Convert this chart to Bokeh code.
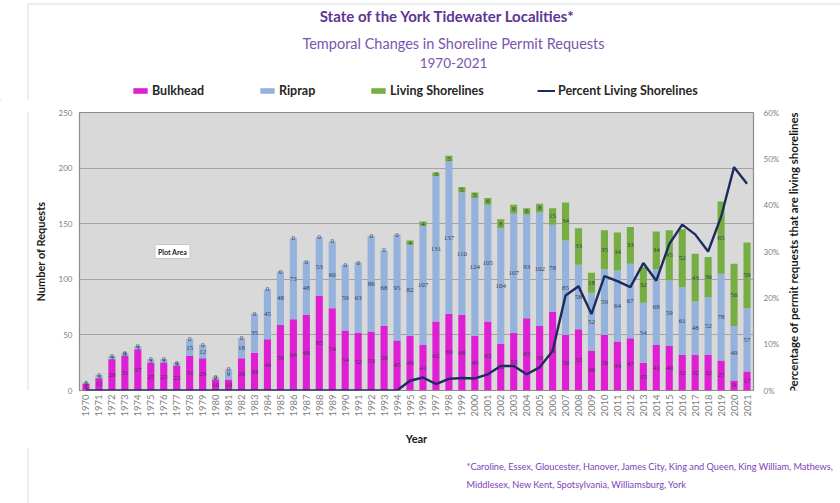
import math
from bokeh.plotting import figure
from bokeh.layouts import column, row
from bokeh.core.properties import value
from bokeh.models import (ColumnDataSource, LinearAxis, Range1d, FixedTicker, Span, BoxAnnotation,
                          NumeralTickFormatter, Label, LabelSet, Legend, LegendItem)
from bokeh.embed import file_html
from bokeh.resources import INLINE

years = list(range(1970, 2022))
bulkhead = [6, 11, 28, 31, 37, 25, 25, 22, 31, 29, 10, 10, 29, 34, 46, 59, 64, 68, 85, 74,
            54, 52, 53, 58, 45, 49, 41, 62, 69, 68, 49, 62, 42, 52, 65, 58, 71, 50, 55, 36,
            50, 44, 47, 25, 41, 40, 32, 32, 32, 27, 9, 17]
riprap = [1, 3, 3, 3, 3, 3, 3, 3, 15, 12, 2, 9, 18, 35, 45, 48, 73, 48, 53, 60,
          59, 63, 86, 68, 95, 82, 107, 131, 137, 110, 124, 105, 104, 107, 93, 102, 78, 85, 58, 52,
          59, 64, 67, 54, 68, 59, 61, 48, 52, 78, 49, 57]
living = [0, 0, 0, 0, 0, 0, 0, 0, 0, 0, 0, 0, 0, 0, 0, 0, 0, 0, 0, 0,
          0, 0, 0, 0, 0, 4, 4, 3, 5, 5, 5, 6, 8, 8, 6, 8, 15, 34, 33, 18,
          35, 34, 33, 32, 34, 45, 52, 43, 36, 65, 56, 59]
percent_living = [0, 0, 0, 0, 0, 0, 0, 0, 0, 0, 0, 0, 0, 0, 0, 0, 0, 0, 0, 0,
                  0, 0, 0, 0, 0, 2.1, 2.8, 1.4, 2.5, 2.7, 2.6, 3.5, 5.3, 5.3, 3.5, 5.0, 8.5, 20.5, 22.5, 16.5,
                  24.7, 23.6, 22.3, 27.5, 23.7, 31.6, 35.8, 33.7, 30.0, 37.5, 48.2, 44.6]
left_ticks = [0, 50, 100, 150, 200, 250]
right_ticks = [0, 0.1, 0.2, 0.3, 0.4, 0.5, 0.6]
series_names = ["Bulkhead", "Riprap", "Living Shorelines", "Percent Living Shorelines"]

C_BULK = "#de1fd4"
C_RIP = "#94b2dc"
C_LIV = "#76ae44"
C_LINE = "#1e2b5e"
C_BORDER = "#8c8c8c"
FONT = "Lato"

HDR_H = 100
ROW_H = 347
FTR_H = 503 - HDR_H - ROW_H


def blank(w, h):
    f = figure(width=w, height=h, x_range=Range1d(0, w), y_range=Range1d(0, h),
               x_axis_type=None, y_axis_type=None, toolbar_location=None,
               output_backend="svg", min_border=0)
    f.outline_line_color = None
    f.background_fill_color = "white"
    f.border_fill_color = "white"
    return f


# ---------------- header (titles + legend) ----------------
hdr = blank(840, HDR_H)
hdr.add_layout(BoxAnnotation(left=27.5, right=2000, bottom=-100, top=HDR_H - 3.5,
                             fill_alpha=0, line_color=C_BORDER, line_width=1))
hdr.add_layout(Label(x=447, y=HDR_H - 15, x_units="screen", y_units="screen",
                     text="State of the York Tidewater Localities*",
                     text_align="center", text_baseline="middle", text_font=FONT,
                     text_font_size="15px", text_font_style="bold", text_color="#5e3494"))
hdr.add_layout(Label(x=453, y=HDR_H - 43, x_units="screen", y_units="screen",
                     text="Temporal Changes in Shoreline Permit Requests",
                     text_align="center", text_baseline="middle", text_font=FONT,
                     text_font_size="14.5px", text_color="#7b55b0"))
hdr.add_layout(Label(x=453, y=HDR_H - 62, x_units="screen", y_units="screen", text="1970-2021",
                     text_align="center", text_baseline="middle", text_font=FONT,
                     text_font_size="13.5px", text_color="#7b55b0"))
d_b = hdr.vbar(x=[-100], top=[1], width=1, fill_color=C_BULK, line_color=None)
d_r = hdr.vbar(x=[-100], top=[1], width=1, fill_color=C_RIP, line_color=None)
d_l = hdr.vbar(x=[-100], top=[1], width=1, fill_color=C_LIV, line_color=None)
d_p = hdr.line(x=[-100, -90], y=[1, 1], line_color=C_LINE, line_width=2)
for name, rend, xpos in zip(series_names, [d_b, d_r, d_l, d_p], [131, 258, 369, 537]):
    lg = Legend(items=[LegendItem(label=name, renderers=[rend])], location=(xpos, HDR_H - 91 - 7),
                orientation="horizontal", padding=0, margin=0, spacing=0,
                glyph_width=18, glyph_height=7, label_standoff=3, label_height=14,
                label_text_font=FONT, label_text_font_size="12.5px",
                label_text_font_style="bold", label_text_color="#262626",
                border_line_color=None, background_fill_alpha=0)
    hdr.add_layout(lg, "center")

# ---------------- main chart ----------------
src = ColumnDataSource(dict(year=years, bulkhead=bulkhead, riprap=riprap, living=living,
                            pct=[v / 100 for v in percent_living]))

p = figure(width=753, height=ROW_H,
           x_range=Range1d(1969.5, 2021.5), y_range=Range1d(0, 250),
           output_backend="svg", toolbar_location=None,
           min_border_left=48, min_border_right=30, min_border_top=12, min_border_bottom=54)
p.background_fill_color = "#d9d9d9"
p.border_fill_color = "white"
p.outline_line_color = C_BORDER
p.outline_line_width = 1.2
p.extra_y_ranges = {"pct": Range1d(0, 0.6)}

bars = p.vbar_stack(["bulkhead", "riprap", "living"], x="year", width=0.55,
                    color=[C_BULK, C_RIP, C_LIV], line_color=None, source=src)
ln = p.line("year", "pct", y_range_name="pct", line_color=C_LINE, line_width=2.4, source=src)

rax = LinearAxis(y_range_name="pct", ticker=FixedTicker(ticks=right_ticks),
                 formatter=NumeralTickFormatter(format="0%"))
p.add_layout(rax, "right")

p.xaxis.ticker = FixedTicker(ticks=years)
p.xaxis.major_label_orientation = math.pi / 2
p.yaxis[0].ticker = FixedTicker(ticks=left_ticks)
for ax in [p.xaxis[0], p.yaxis[0], rax]:
    ax.axis_line_color = None
    ax.major_tick_line_color = None
    ax.minor_tick_line_color = None
    ax.major_tick_out = 0
    ax.major_tick_in = 0
    ax.minor_tick_out = 0
    ax.minor_tick_in = 0
    ax.major_label_text_color = "#808080"
    ax.major_label_text_font = FONT
    ax.axis_label_text_font = FONT
    ax.axis_label_text_font_size = "11px"
    ax.axis_label_text_font_style = "bold"
    ax.axis_label_text_color = "#1a1a1a"
p.xaxis.major_label_text_font_size = "9.5px"
p.yaxis[0].major_label_text_font_size = "8px"
rax.major_label_text_font_size = "8px"
p.xaxis.major_label_standoff = 4
p.yaxis[0].major_label_standoff = 7
rax.major_label_standoff = 10
p.xaxis.axis_label = "Year"
p.xaxis.axis_label_standoff = 12
p.yaxis[0].axis_label = "Number of Requests"
p.yaxis[0].axis_label_standoff = 9

p.xgrid.grid_line_color = None
p.ygrid.ticker = FixedTicker(ticks=[50, 100, 150, 200])
p.ygrid.grid_line_color = "#a3a3a3"
p.ygrid.grid_line_width = 1

lx, ly, lt = [], [], []
for i, yr in enumerate(years):
    b, r, l = bulkhead[i], riprap[i], living[i]
    lx.append(yr); ly.append(b / 2); lt.append(str(b))
    lx.append(yr); ly.append(b + r / 2); lt.append(str(r))
    lx.append(yr); ly.append(b + r + l / 2); lt.append(str(l))
lab_src = ColumnDataSource(dict(x=lx, y=ly, t=lt))
p.add_layout(LabelSet(x="x", y="y", text="t", source=lab_src, text_align="center",
                      text_baseline="middle", text_font=FONT, text_font_size="7px",
                      text_color="#3c3c4c"))

p.add_layout(Label(x=93, y=139, x_units="screen", y_units="screen", text="Plot Area",
                   text_align="center", text_baseline="middle", text_font=FONT,
                   text_font_size="7px", text_font_style="bold", text_color="#222222",
                   background_fill_color="white", border_line_color="#c8c8c8",
                   padding=3))

# left strip with border line
strip = blank(30, ROW_H)
strip.add_layout(BoxAnnotation(left=27.5, right=200, bottom=-100, top=1000,
                               fill_alpha=0, line_color=C_BORDER, line_width=1))

# right strip with right-axis title (text glyph, rotated to read upwards)
rfig = blank(57, ROW_H)
rfig.text(x=[10], y=[172], text=["Percentage of permit requests that are living shorelines"],
          angle=math.pi / 2, text_align="center", text_baseline="middle",
          text_font=value(FONT), text_font_size="11.5px", text_font_style="bold",
          text_color="#1a1a1a")

# ---------------- footer ----------------
ftr = blank(840, FTR_H)
ftr.add_layout(BoxAnnotation(left=27.5, right=2000, bottom=-100, top=1000,
                             fill_alpha=0, line_color=C_BORDER, line_width=1))
ftr.add_layout(Label(x=466, y=FTR_H - 19, x_units="screen", y_units="screen",
                     text="*Caroline, Essex, Gloucester, Hanover, James City, King and Queen, King William, Mathews,",
                     text_align="left", text_baseline="middle", text_font=FONT,
                     text_font_size="9.2px", text_color="#8040b8"))
ftr.add_layout(Label(x=466, y=FTR_H - 37, x_units="screen", y_units="screen",
                     text="Middlesex, New Kent, Spotsylvania, Williamsburg, York",
                     text_align="left", text_baseline="middle", text_font=FONT,
                     text_font_size="9.2px", text_color="#8040b8"))

layout = column(hdr, row(strip, p, rfig), ftr)
open("out.html", "w").write(file_html(layout, INLINE))
